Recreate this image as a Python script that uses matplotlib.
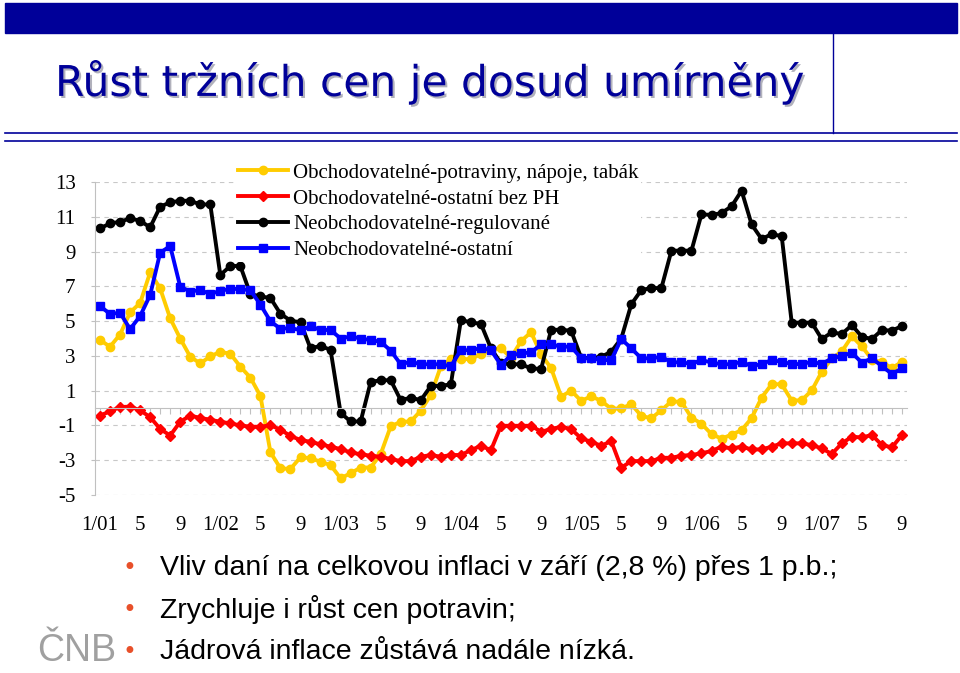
import numpy as np
import matplotlib.pyplot as plt
from matplotlib.patches import Rectangle
from matplotlib.lines import Line2D
import matplotlib.patheffects as pe

plt.rcParams['axes.unicode_minus'] = False

W, H = 960, 673

# monthly data 1/2001 - 9/2007, y/y change in %
month_labels = ['1/01', '5', '9', '1/02', '5', '9', '1/03', '5', '9',
                '1/04', '5', '9', '1/05', '5', '9', '1/06', '5', '9',
                '1/07', '5', '9']

food = [3.91, 3.53, 4.23, 5.5, 6.04, 7.8, 6.88, 5.16, 4.0, 2.95,
        2.57, 2.97, 3.24, 3.12, 2.38, 1.75, 0.7, -2.54, -3.47, -3.5,
        -2.83, -2.88, -3.09, -3.28, -4.04, -3.75, -3.42, -3.42, -2.65, -1.05,
        -0.79, -0.77, -0.15, 0.75, 2.4, 2.83, 2.83, 2.8, 3.12, 3.34,
        3.43, 2.9, 3.85, 4.36, 3.08, 2.3, 0.66, 1.0, 0.41, 0.68,
        0.41, -0.04, -0.02, 0.22, -0.45, -0.59, -0.12, 0.38, 0.36, -0.55,
        -0.9, -1.5, -1.76, -1.53, -1.27, -0.58, 0.6, 1.37, 1.37, 0.43,
        0.45, 1.01, 2.09, 2.86, 3.26, 4.12, 3.55, 2.79, 2.64, 2.3,
        2.66]

other = [-0.43, -0.19, 0.06, 0.08, -0.13, -0.52, -1.2, -1.58, -0.79, -0.43,
         -0.57, -0.67, -0.79, -0.88, -1.0, -1.07, -1.08, -0.98, -1.25, -1.6,
         -1.84, -1.94, -2.09, -2.22, -2.36, -2.55, -2.66, -2.74, -2.8, -2.93,
         -3.05, -3.05, -2.8, -2.7, -2.8, -2.7, -2.7, -2.42, -2.17, -2.42,
         -1.02, -1.02, -1.02, -1.02, -1.36, -1.21, -1.07, -1.21, -1.74, -1.94,
         -2.17, -1.9, -3.43, -3.05, -3.05, -3.05, -2.86, -2.86, -2.74, -2.7,
         -2.6, -2.47, -2.22, -2.32, -2.22, -2.38, -2.38, -2.22, -2.03, -2.03,
         -2.03, -2.13, -2.32, -2.64, -2.03, -1.65, -1.69, -1.55, -2.13, -2.26,
         -1.55]

regulated = [10.33, 10.62, 10.71, 10.91, 10.77, 10.39, 11.58, 11.83, 11.92, 11.92,
             11.71, 11.71, 7.65, 8.17, 8.17, 6.55, 6.42, 6.33, 5.42, 5.03,
             4.93, 3.43, 3.58, 3.34, -0.28, -0.77, -0.77, 1.5, 1.6, 1.6,
             0.45, 0.6, 0.45, 1.27, 1.27, 1.37, 5.06, 4.93, 4.84, 3.43,
             2.57, 2.52, 2.52, 2.28, 2.25, 4.5, 4.5, 4.45, 2.88, 2.88,
             2.95, 3.24, 4.0, 5.97, 6.79, 6.9, 6.9, 9.05, 9.05, 9.05,
             11.15, 11.1, 11.22, 11.6, 12.5, 10.56, 9.72, 10.0, 9.89, 4.91,
             4.91, 4.91, 3.97, 4.35, 4.26, 4.77, 4.1, 3.97, 4.49, 4.45,
             4.72]

nontradable = [5.87, 5.41, 5.48, 4.54, 5.29, 6.5, 8.93, 9.32, 6.98, 6.7,
               6.79, 6.55, 6.75, 6.85, 6.85, 6.77, 5.95, 4.99, 4.56, 4.6,
               4.48, 4.7, 4.49, 4.49, 4.0, 4.12, 4.0, 3.91, 3.81, 3.3,
               2.52, 2.66, 2.52, 2.52, 2.52, 2.4, 3.34, 3.32, 3.45, 3.33,
               2.47, 3.05, 3.14, 3.2, 3.66, 3.66, 3.53, 3.53, 2.86, 2.86,
               2.76, 2.76, 3.97, 3.43, 2.86, 2.86, 2.95, 2.63, 2.63, 2.54,
               2.76, 2.62, 2.52, 2.52, 2.66, 2.41, 2.53, 2.76, 2.66, 2.53,
               2.53, 2.66, 2.53, 2.86, 2.99, 3.18, 2.61, 2.86, 2.41, 1.96,
               2.28]

series_names = ['Obchodovatelné-potraviny, nápoje, tabák',
                'Obchodovatelné-ostatní bez PH',
                'Neobchodovatelné-regulované',
                'Neobchodovatelné-ostatní']

bullets = ['Vliv daní na celkovou inflaci v září (2,8 %) přes 1 p.b.;',
           'Zrychluje i růst cen potravin;',
           'Jádrová inflace zůstává nadále nízká.']

NAVY = '#000099'
SERIF = ['Liberation Serif', 'DejaVu Serif']
NARROW = ['Liberation Sans Narrow', 'Liberation Sans', 'DejaVu Sans']


def fx(px):
    return px / W


def fy(py):
    return 1 - py / H


fig = plt.figure(figsize=(W / 100, H / 100), dpi=100)

# slide header
fig.patches.append(Rectangle((fx(5), fy(33)), fx(952), 30 / H,
                             transform=fig.transFigure, color=NAVY, zorder=0))
for yy in (133, 141):
    fig.add_artist(Line2D([fx(5), fx(957)], [fy(yy), fy(yy)],
                          transform=fig.transFigure, color=NAVY, lw=1.2))
fig.add_artist(Line2D([fx(833), fx(833)], [fy(33), fy(133)],
                      transform=fig.transFigure, color=NAVY, lw=1.0))

fig.text(fx(55), fy(82), 'Růst tržních cen je dosud umírněný',
         fontsize=30.5, color=NAVY, family='DejaVu Sans', va='center', ha='left',
         path_effects=[pe.withSimplePatchShadow(offset=(1.5, -1.5),
                                                shadow_rgbFace='#9090a0',
                                                alpha=0.7)])

# chart
ax = fig.add_axes([fx(95), fy(495), fx(812), (495 - 182) / H])
x = np.arange(len(food))

styles = [
    (food, '#FFCC00', 'o', 6),
    (other, '#FF0000', 'D', 5.5),
    (regulated, '#000000', 'o', 6),
    (nontradable, '#0000FF', 's', 5.5),
]
for (vals, col, mk, ms), name in zip(styles, series_names):
    ax.plot(x, vals, color=col, lw=2.8, marker=mk, ms=ms, label=name,
            solid_joinstyle='round')

ax.set_xlim(-0.5, len(food) - 0.5)
ax.set_ylim(-5, 13)
ax.set_yticks(np.arange(-5, 14, 2))
ax.yaxis.grid(True, color='#c8c8c8', lw=0.8, ls=(0, (4, 4)))
ax.set_axisbelow(True)

for s in ('top', 'right'):
    ax.spines[s].set_visible(False)
ax.spines['left'].set_color('#c0c0c0')
ax.spines['bottom'].set_position(('data', 0))
ax.spines['bottom'].set_color('#c0c0c0')
ax.set_xticks(x)
ax.tick_params(axis='x', direction='out', length=4, color='#c0c0c0',
               labelbottom=False)
ax.tick_params(axis='y', direction='out', length=3, color='#c0c0c0', pad=11)
for lab in ax.get_yticklabels():
    lab.set_family(SERIF)
    lab.set_fontsize(15)

sec = ax.secondary_xaxis('bottom')
sec.set_xticks(x[::4])
sec.set_xticklabels(month_labels, family=SERIF, fontsize=15)
sec.tick_params(length=0, pad=15)
sec.spines['bottom'].set_visible(False)

leg = ax.legend(loc='upper left', bbox_to_anchor=(fx(236), fy(161)),
                bbox_transform=fig.transFigure, frameon=True, fancybox=False,
                edgecolor='none', facecolor='white', framealpha=1,
                prop={'family': SERIF, 'size': 15}, handlelength=2.4,
                handletextpad=0.25, labelspacing=0.3, borderpad=0.1,
                borderaxespad=0)

# bullet list
for i, txt in enumerate(bullets):
    yy = 568 + i * 42
    fig.text(fx(129), fy(yy), '•', color='#E8502A', fontsize=17,
             va='center', ha='center')
    fig.text(fx(160), fy(yy), txt, fontsize=20.5, family=NARROW,
             va='center', ha='left', color='black')

fig.text(fx(37), fy(651), 'ČNB', fontsize=27, family=NARROW,
         color='#a0a0a0', va='center', ha='left')

fig.savefig('out.png', dpi=100)
